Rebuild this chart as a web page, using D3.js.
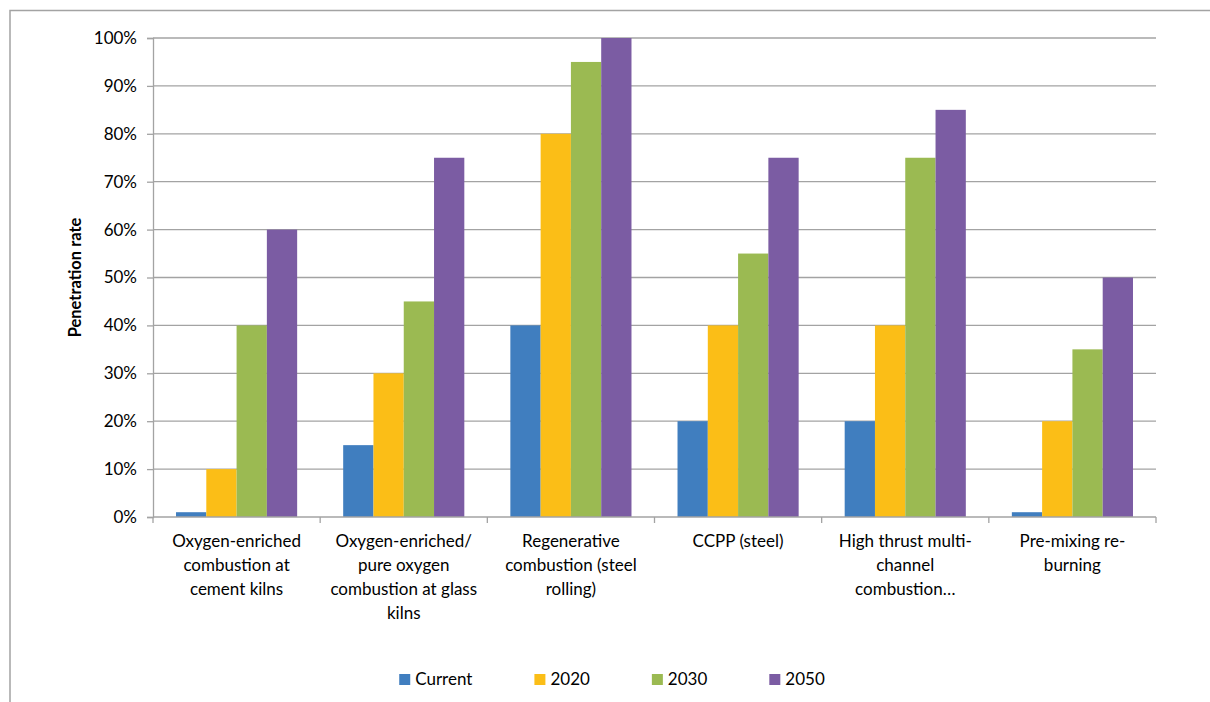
<!DOCTYPE html>
<html>
<head>
<meta charset="utf-8">
<script src="https://cdn.jsdelivr.net/npm/d3@7"></script>
<style>
  html, body { margin: 0; padding: 0; background: #fff; }
  svg { display: block; font-family: Lato, "Open Sans", sans-serif; }
</style>
</head>
<body>
<svg id="chart" width="1210" height="702"></svg>
<script>
// Technology categories, each label split into its displayed lines
const categories = [
  "Oxygen-enriched combustion at cement kilns",
  "Oxygen-enriched/pure oxygen combustion at glass kilns",
  "Regenerative combustion (steel rolling)",
  "CCPP (steel)",
  "High thrust multi-channel combustion",
  "Pre-mixing re-burning"
];
const categoryLines = [
  ["Oxygen-enriched", "combustion at", "cement kilns"],
  ["Oxygen-enriched/", "pure oxygen", "combustion at glass", "kilns"],
  ["Regenerative", "combustion (steel", "rolling)"],
  ["CCPP (steel)"],
  ["High thrust multi-", "channel", "combustion…"],
  ["Pre-mixing re-", "burning"]
];

// Penetration rate (fraction) per series
const seriesNames = ["Current", "2020", "2030", "2050"];
const current = [0.01, 0.15, 0.40, 0.20, 0.20, 0.01];
const y2020   = [0.10, 0.30, 0.80, 0.40, 0.40, 0.20];
const y2030   = [0.40, 0.45, 0.95, 0.55, 0.75, 0.35];
const y2050   = [0.60, 0.75, 1.00, 0.75, 0.85, 0.50];
const seriesValues = [current, y2020, y2030, y2050];
const seriesColors = ["#407EBF", "#FBBE17", "#9BBA52", "#7B5CA3"];

const yTicks = [0, 0.1, 0.2, 0.3, 0.4, 0.5, 0.6, 0.7, 0.8, 0.9, 1.0];

const svg = d3.select("#chart");
const margin = { left: 153, top: 38, right: 54, bottom: 185 };
const W = 1210, H = 702;
const plotW = W - margin.left - margin.right;
const plotH = H - margin.top - margin.bottom;
const gridColor = "#A3A3A3";
const fontSize = 17;

// Outer chart frame (open to the right and bottom)
svg.append("path")
  .attr("d", `M10,702 V10.5 H1210`)
  .attr("fill", "none")
  .attr("stroke", gridColor)
  .attr("stroke-width", 1.5);

const g = svg.append("g").attr("transform", `translate(${margin.left},${margin.top})`);

const x0 = d3.scaleBand().domain(d3.range(categories.length)).range([0, plotW]);
const x1 = d3.scaleBand().domain(d3.range(seriesNames.length)).range([0, x0.bandwidth()]).paddingInner(0).paddingOuter(0.76);
const y = d3.scaleLinear().domain([0, 1]).range([plotH, 0]);

// Horizontal gridlines
g.append("g").selectAll("line").data(yTicks.filter(d => d > 0)).join("line")
  .attr("x1", 0).attr("x2", plotW)
  .attr("y1", d => y(d)).attr("y2", d => y(d))
  .attr("stroke", gridColor).attr("stroke-width", 1.3);

// Y axis
const yAxis = g.append("g")
  .call(d3.axisLeft(y).tickValues(yTicks).tickFormat(d3.format(".0%")).tickSize(6).tickPadding(10));
yAxis.select(".domain").attr("stroke", gridColor).attr("stroke-width", 1.3);
yAxis.selectAll(".tick line").attr("stroke", gridColor).attr("stroke-width", 1.3);
yAxis.selectAll("text").attr("font-size", fontSize).attr("fill", "#000").attr("font-family", "Lato, sans-serif");

// Bars
const groups = g.append("g").selectAll("g").data(categories).join("g")
  .attr("transform", (d, i) => `translate(${x0(i)},0)`);
groups.selectAll("rect")
  .data((d, i) => seriesValues.map((vals, s) => ({ s, v: vals[i] })))
  .join("rect")
  .attr("x", d => x1(d.s))
  .attr("width", x1.bandwidth())
  .attr("y", d => y(d.v))
  .attr("height", d => plotH - y(d.v))
  .attr("fill", d => seriesColors[d.s]);

// X axis with category boundary ticks
const xAxisG = g.append("g").attr("transform", `translate(0,${plotH})`);
xAxisG.append("line").attr("x1", 0).attr("x2", plotW)
  .attr("stroke", gridColor).attr("stroke-width", 1.3);
xAxisG.selectAll(".bound").data(d3.range(categories.length + 1)).join("line")
  .attr("class", "bound")
  .attr("x1", i => i * x0.step()).attr("x2", i => i * x0.step())
  .attr("y1", 0).attr("y2", 6)
  .attr("stroke", gridColor).attr("stroke-width", 1.3);

// Category labels
xAxisG.selectAll("text.cat").data(categoryLines).join("text")
  .attr("class", "cat")
  .attr("x", (d, i) => x0(i) + x0.bandwidth() / 2)
  .attr("y", 30)
  .attr("text-anchor", "middle")
  .attr("font-size", fontSize)
  .attr("fill", "#000")
  .selectAll("tspan").data(d => d).join("tspan")
  .attr("x", function () { return this.parentNode.getAttribute("x"); })
  .attr("dy", (d, j) => j === 0 ? 0 : 24)
  .text(d => d);

// Y axis title
svg.append("text")
  .attr("transform", `translate(81,${margin.top + plotH / 2}) rotate(-90)`)
  .attr("text-anchor", "middle")
  .attr("font-size", 16.5)
  .attr("font-weight", "bold")
  .attr("fill", "#000")
  .text("Penetration rate");

// Legend
const legend = svg.append("g");
let lx = 0;
seriesNames.forEach((name, i) => {
  const item = legend.append("g").attr("transform", `translate(${lx},0)`);
  item.append("rect").attr("x", 0).attr("y", -5).attr("width", 11).attr("height", 11).attr("fill", seriesColors[i]);
  const t = item.append("text").attr("x", 16).attr("y", 6).attr("font-size", fontSize).attr("fill", "#000").text(name);
  lx += 16 + t.node().getComputedTextLength() + 62;
});
const legendW = lx - 62;
legend.attr("transform", `translate(${(W + 10 - legendW) / 2 + 2},679)`);
</script>
</body>
</html>
